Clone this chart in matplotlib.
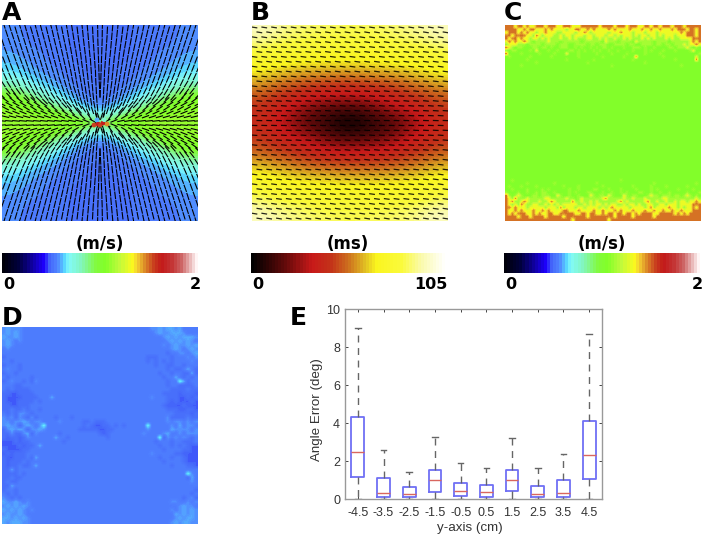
import numpy as np
import matplotlib
matplotlib.use('Agg')
import matplotlib.pyplot as plt
from matplotlib.colors import LinearSegmentedColormap

# colormaps
speed_stops = [(0.00, (0, 0, 10)), (0.08, (0, 0, 60)), (0.21, (30, 0, 255)), (0.24, (70, 105, 250)),
               (0.28, (80, 130, 255)), (0.32, (90, 220, 255)), (0.34, (130, 250, 250)), (0.40, (130, 245, 190)),
               (0.48, (130, 250, 60)), (0.53, (130, 255, 40)), (0.60, (190, 250, 60)), (0.665, (250, 250, 30)),
               (0.69, (245, 210, 50)), (0.73, (220, 140, 40)), (0.78, (200, 60, 30)), (0.82, (195, 25, 25)),
               (0.87, (195, 50, 50)), (0.92, (205, 100, 100)), (0.97, (235, 190, 190)), (1.00, (255, 245, 245))]
time_stops = [(0.00, (0, 0, 0)), (0.09, (50, 5, 5)), (0.175, (100, 10, 10)), (0.31, (200, 25, 25)),
              (0.41, (195, 50, 25)), (0.50, (205, 110, 30)), (0.59, (225, 190, 35)), (0.65, (250, 245, 30)),
              (0.78, (250, 250, 60)), (0.88, (250, 250, 170)), (1.00, (255, 255, 250))]

# panel A: speed (m/s), top half and left half, mirrored below
a_speed = [
    [.57, .56, .55, .54, .53, .52, .52],
    [.58, .56, .55, .54, .53, .52, .52],
    [.59, .57, .56, .54, .53, .52, .52],
    [.61, .59, .57, .55, .53, .52, .52],
    [.64, .61, .58, .56, .54, .53, .52],
    [.70, .65, .61, .58, .55, .53, .52],
    [.84, .74, .66, .61, .57, .54, .53],
    [1.00, .92, .78, .68, .61, .56, .54],
    [1.08, 1.05, .96, .82, .68, .60, .56],
    [1.10, 1.10, 1.08, 1.05, .94, .74, .66],
    [1.12, 1.12, 1.12, 1.12, 1.12, 1.10, .90],
]
# panel A: fibre angle (deg from horizontal), upper left quadrant
a_angle = [
    [72, 72, 73, 73, 74, 74, 75, 75, 76, 76, 77, 78, 79, 80, 81, 83, 84, 85, 87, 89],
    [72, 72, 73, 73, 73, 74, 74, 75, 76, 76, 77, 78, 79, 80, 81, 83, 84, 85, 87, 89],
    [71, 72, 72, 73, 73, 74, 74, 75, 75, 76, 77, 77, 78, 79, 81, 82, 84, 85, 86, 88],
    [71, 71, 72, 72, 73, 73, 74, 75, 75, 76, 76, 77, 78, 79, 80, 82, 83, 85, 86, 88],
    [71, 71, 72, 72, 73, 73, 74, 74, 75, 75, 76, 77, 78, 79, 80, 82, 83, 85, 86, 88],
    [70, 70, 71, 71, 72, 72, 73, 74, 74, 75, 75, 76, 77, 79, 80, 81, 83, 84, 86, 88],
    [69, 70, 70, 71, 71, 72, 72, 73, 74, 74, 75, 76, 77, 78, 80, 81, 83, 84, 86, 88],
    [69, 69, 70, 70, 71, 71, 72, 73, 73, 74, 75, 76, 77, 78, 79, 81, 83, 84, 86, 88],
    [68, 68, 69, 69, 70, 71, 71, 72, 73, 73, 74, 75, 76, 78, 79, 81, 82, 84, 86, 88],
    [66, 67, 67, 68, 69, 70, 70, 71, 72, 72, 73, 74, 76, 77, 79, 80, 82, 84, 86, 88],
    [65, 65, 66, 67, 67, 68, 69, 70, 70, 71, 72, 73, 75, 76, 78, 80, 82, 84, 86, 88],
    [61, 62, 63, 64, 65, 65, 66, 67, 68, 69, 70, 71, 73, 75, 77, 79, 81, 83, 85, 87],
    [57, 58, 59, 60, 61, 62, 63, 64, 65, 66, 67, 68, 70, 73, 75, 78, 80, 82, 85, 87],
    [51, 52, 53, 54, 55, 56, 58, 59, 60, 61, 63, 65, 67, 69, 72, 75, 78, 81, 84, 87],
    [45, 46, 47, 48, 49, 50, 51, 52, 54, 55, 57, 60, 63, 66, 69, 72, 76, 79, 83, 86],
    [36, 37, 38, 39, 40, 41, 42, 43, 45, 46, 48, 51, 54, 58, 63, 67, 72, 77, 81, 85],
    [28, 28, 29, 30, 31, 32, 33, 34, 36, 38, 40, 43, 46, 50, 55, 60, 67, 73, 79, 84],
    [21, 21, 22, 22, 23, 24, 24, 25, 26, 28, 30, 32, 35, 39, 45, 50, 58, 65, 72, 80],
    [14, 14, 14, 15, 15, 15, 16, 16, 17, 18, 20, 22, 24, 27, 31, 35, 45, 55, 63, 72],
    [5, 5, 5, 5, 5, 5, 5, 5, 6, 6, 6, 7, 8, 9, 10, 12, 16, 22, 28, 35],
]
# hot spot in the middle of panel A (x, y, m/s)
a_spot_x = [-6, -2, 0, 3, 7, -3, 4]
a_spot_y = [-2, -1, -2, 0, -1, 3, 3]
a_spot_v = [1.55, 1.65, 1.55, 1.65, 1.45, 0.62, 0.75]

# panel B: activation time (ms)
b_time = [
    [95, 92, 88, 86, 85, 84, 84, 84, 85, 87, 89, 92, 95],
    [84, 80, 78, 77, 76, 76, 76, 76, 76, 78, 79, 81, 85],
    [74, 71, 69, 68, 67, 67, 67, 67, 68, 69, 70, 72, 75],
    [62, 59, 56, 54, 53, 52, 52, 53, 54, 55, 58, 61, 64],
    [51, 46, 43, 39, 36, 35, 34, 35, 37, 41, 45, 48, 52],
    [42, 37, 32, 25, 20, 17, 16, 18, 24, 30, 34, 39, 44],
    [40, 34, 26, 17, 11, 5, 0, 5, 10, 15, 23, 32, 40],
    [44, 39, 34, 30, 24, 18, 16, 17, 20, 25, 32, 37, 42],
    [52, 48, 45, 41, 37, 35, 34, 35, 36, 39, 43, 46, 51],
    [64, 61, 58, 55, 54, 53, 52, 52, 53, 54, 56, 59, 62],
    [75, 72, 70, 69, 68, 67, 67, 67, 67, 68, 69, 71, 74],
    [85, 81, 79, 78, 76, 76, 76, 76, 76, 77, 78, 80, 84],
    [95, 92, 89, 87, 85, 84, 84, 84, 85, 86, 88, 92, 95],
]
# dash tilt of panel B per row, top to bottom
b_tilt = [-9, -9, -9, -9, -8, -8, -8, -8, -8, -8, -7, -7, -7, -7, -6, -6, -5, -4, -3, -2,
          -2, -3, -4, -5, -6, -6, -7, -7, -7, -7, -8, -8, -8, -8, -8, -8, -9, -9, -9, -9]

# panel C: cell classes, only the noisy rows at top and bottom, rest is plain green
c_levels = {'g': 1.05, 'l': 1.13, 'y': 1.30, 'o': 1.47}
c_top = [
    "oooyooyoyyoooyoooyyoooyyyooooooyooooyoooyoooyyooyooyoooyoooyooooo",
    "ooooyyoyooyyyoyoyyyylyyooyyoyoyyyyoyoyyyyoyyyoyyoyyoyyyoyoooyooyo",
    "yoooyoyoyylyyoyyyllyyyylyyoylyyyyylyyyoyyylyyylyyylyyyyyyyoyoooyo",
    "ooyooooyyloylyyyllylyylyyylyylyyylyylylyyylylyylyylylyyylyyyoooyo",
    "oyooyoyylyylylylllyllylylllyyllylyllyllylylllylylylllylyllyyyyooo",
    "yoyoyyoylgllllylllgllllllgllllllgylllgllllgylllllgllllgllllllyoyo",
    "lyyylllgllllgllllglllggllllgllglllggllllgllggllllgllgllglllylyyoy",
    "oylgllgggllgllglgglllgglglgglglgllglggglgglllglgglggggllglllylglg",
    "lgllgggglgyggglgglgggllglglgglglgglgglgggglggglglggglggglgggglygg",
    "ogggglggggglgggglgggyggglggggglgggglgggglggggglgggglgggggggggggglo",
    "glgggggglgggggglgggggggglggggggglgggggglgggogggggggglggggggggggyg",
    "ggggggglgggggggggggglgggggggglgggggggggggglggggggggggggglggggggo",
    "gggggggggglgggggggggggggggglgggggggggggggggggglgggggggggggggggggg",
    "ggggglggggggggggggggggggggggggggggglgggggggggggggggggggggglgggggg",
]
c_bottom = [
    "gglggggggggggggggggggggggggggggggggggglgggggggggggggggggggggggggg",
    "ggggggglgggggggglggggggggggggglgggggggggggggggggglggggggggggggglg",
    "glggglgggglgggggggglgggglggggggglggggggggglggggglgggglgggggglgggg",
    "gglgggglgggglglgggggglgglggggllggglggglgggglgggglglgggggglgggglgg",
    "lggglgglgglgllgglgggglglgggllggglgglgglglgggllgglgglgglggggglgggl",
    "olglylgggllglllggylgglgglgggylgllgylgggylgllggglyllglllgllglylglg",
    "oylolllylllllyylllllyllglyllllllyolllllyllylllylllllyylllllllllyl",
    "oyollyoylllyllyoylllllollyllylyllllllyolylllllyollyllyllylyylyyoy",
    "oylyloyllyyllylylylyyyyyllylylyylylyyllylyylyllyyllyylyyylyyyyooo",
    "ooyoyyylyyyyylyyylolyyylyylyyyylylyoyyyyylyyyylyolyyyyoyylylyyoyo",
    "oyyoyoyyyoyyoyoyyyyooyyyoyyyyoyyoyyyoyoyyyoyyyoyyoyyoyyoyyoyyyooo",
    "oyoyoooyyoyoyyooyyoooooyyooyooyyoyooyooyooyoyooooyyoooooyoyoyoooo",
    "ooooyoooyooooyoooooyoooooooyooooooooyoooooyooooooyooooooooooooooo",
    "ooooooooooooooooooooooyoooooooooooyoooooooooooooooooooooooooooooo",
]

# panel D: cell classes
d_levels = {'.': .272, 'd': .252, 'D': .238, 'l': .287, 'L': .298, 'c': .335}
d_cells = [
    "lLlll................................llLlLLlL....",
    "lLlLl.................................lLllLLLl...",
    "LllLl...................................lLlLlLLLl",
    "lLl.l....................................lLlLlLl.",
    "lLl.....................................l.lLllLlL",
    ".l........................................lLl.lLl",
    ".........................................d..ll.lL",
    "d...................................ddd...d...l.l",
    "..d.................................d.d.d.d....l.",
    "d...d.................................d..dd..d...",
    ".l..d....................................d.dd.L.d",
    "d..d...................................d..d..ddLd",
    ".d.....d................................d..L.d.d.",
    "d.l..d.dl................................d..cLd..d",
    "...dd....................................d..dddd.",
    ".d.dddd...................................dddd.dd",
    "ddDDdddd................................ddddDdddD",
    "dDDDDdddd...L........................l...dddDDdDd",
    "dDDDdddd.d...............................dDdDDDdD",
    "ddDDddd.................................dDDDDdDDD",
    "dd.dd.d..d...............................dddDDddD",
    ".d.dll.d...................................ddddDd",
    "l.ldl.dld....d...d.......................ldddd.dd",
    "ll.llLl.ll....l.....dd.ddd...............l.ll.l.l",
    "lLlldlLl.lc.........d.dDDdd.d.d.....c.....l.L.ll.",
    "dlLlLldllLl........dddddDDdd........l.....Lllll.l",
    "ddlddlLdl.....d.........dDd........l....lL..l.lll",
    "dDddDdl......L..d.........d............cdl.l.l.d.",
    "DDDdDdd........d......................d...d..ddd",
    "DDDDdDdd.L.............................d..d.d.dDD",
    "dDDDDdd.................................d....ddDDD",
    "DdDddd...............................l.....ddDDDD",
    "dDDddd.dL..............................d..d..dDDDd",
    "dDddd.d.................................d....dDDDd",
    "dDdd.dd.L.................................d...ddDd",
    "ddLd..............................................",
    "dddd.d........................................cl.",
    "dd.dd.........................................dL.",
    "d.dd...........................................l",
    "ddL.............................................",
    "d..d............................................d",
    ".d.d...........................................d.",
    "l.d.d........................................d.ld",
    "LllLl.l...................................ll..l.l",
    "lLlLlLl.....................................lLll.",
    "LlLlLl.l..................................l.lLlLl",
    "lLllLl.....................................LlLlLl",
    "LLlLlLl....................................lLlLLl",
    "LlLLLll...................................lLlLLll",
]

# panel E: box stats
e_labels = ['-4.5', '-3.5', '-2.5', '-1.5', '-0.5', '0.5', '1.5', '2.5', '3.5', '4.5']
e_whishi = [8.98, 2.57, 1.44, 3.24, 1.87, 1.61, 3.19, 1.61, 2.35, 8.67]
e_q3 = [4.31, 1.10, 0.63, 1.51, 0.84, 0.74, 1.51, 0.70, 1.00, 4.08]
e_med = [2.50, 0.32, 0.26, 0.98, 0.44, 0.37, 1.00, 0.28, 0.30, 2.29]
e_q1 = [1.16, 0.10, 0.10, 0.37, 0.17, 0.12, 0.42, 0.10, 0.10, 1.03]
e_whislo = [0, 0, 0, 0, 0, 0, 0, 0, 0, 0]

W, H = 705, 537
fig = plt.figure(figsize=(W / 100, H / 100), dpi=100)


def make_cmap(name, stops, n=64):
    return LinearSegmentedColormap.from_list(
        name, [(t, tuple(c / 255 for c in rgb)) for t, rgb in stops], N=n)


def px_axes(x0, y0, x1, y1):
    return fig.add_axes([x0 / W, 1 - y1 / H, (x1 - x0) / W, (y1 - y0) / H])


def letter(x, y, s):
    fig.text(x / W, 1 - y / H, s, fontsize=18, fontweight='bold', ha='left', va='baseline')


def field(box, data, cmap, vmax, interp):
    ax = px_axes(*box)
    im = ax.imshow(data, cmap=cmap, vmin=0, vmax=vmax, extent=(-98, 98, -98, 98),
                   origin='upper', aspect='auto', interpolation=interp)
    ax.axis('off')
    return ax, im


def color_bar(im, x0, x1, unit, lo, hi):
    cax = px_axes(x0, 253, x1, 273)
    cb = fig.colorbar(im, cax=cax, orientation='horizontal')
    cb.outline.set_visible(False)
    cb.set_ticks([])
    fig.text((x0 + x1) / 2 / W, 1 - 249 / H, unit, fontsize=12, fontweight='bold', ha='center', va='baseline')
    fig.text((x0 + 1) / W, 1 - 289 / H, lo, fontsize=11.5, fontweight='bold', ha='left', va='baseline')
    fig.text((x1 + 3) / W, 1 - 289 / H, hi, fontsize=11.5, fontweight='bold', ha='right', va='baseline')


def dashes(ax, x, y, deg, length, lw, alpha=1.0):
    rad = np.deg2rad(deg)
    ax.quiver(x, y, length * np.cos(rad), length * np.sin(rad), angles='xy', scale_units='xy', scale=1,
              pivot='mid', units='xy', width=lw, headwidth=1, headlength=0, headaxislength=0,
              color='k', alpha=alpha)
    ax.set_xlim(-98, 98)
    ax.set_ylim(-98, 98)


def angle_at(x, y):
    c = int(np.clip((x + 98) / 4.9, 0, 19))
    r = int(np.clip((98 - y) / 4.9, 0, 19))
    return a_angle[r][c]


def band_limit(x):
    return 6 + 26 * (-x / 98)


def trace_quadrant():
    # streaks from the top and left edges down to the green band
    seeds = [(x, 98.0) for x in np.arange(-96, 0, 5.2)]
    y = 98 - 15.0
    while y > 32:
        seeds.append((-98.0, y))
        y -= max(4.5, 5.2 * np.tan(np.deg2rad(angle_at(-98, y))))
    px, py, pa = [], [], []
    for i, (x, y) in enumerate(seeds):
        start = (i % 3) * 2.7
        x += start * np.cos(np.deg2rad(angle_at(x, y)))
        y -= start * np.sin(np.deg2rad(angle_at(x, y)))
        while x < 0 and y > band_limit(x):
            deg = angle_at(x, y)
            px.append(x)
            py.append(y)
            pa.append(deg)
            x += 8.6 * np.cos(np.deg2rad(deg))
            y -= 8.6 * np.sin(np.deg2rad(deg))
    # staggered dashes inside the band
    for k, y in enumerate(np.arange(2.1, 32, 4.2)):
        for x in np.arange(-98 + (k % 2) * 3.5, 0, 7.0):
            if y < band_limit(x):
                px.append(x)
                py.append(y)
                pa.append(angle_at(x, y))
    return np.array(px), np.array(py), np.array(pa, dtype=float)


speed_cmap = make_cmap('speed', speed_stops)
time_cmap = make_cmap('time', time_stops)
speed_fine = make_cmap('speed_fine', speed_stops, 256)

# A
half = np.array(a_speed)
half = np.hstack([half, half[:, -2::-1]])
speed_grid = np.vstack([half, half[-2::-1]])
ax_a, im_a = field((2, 25, 198, 221), speed_grid, speed_cmap, 2, 'bicubic')
ax_a.scatter(a_spot_x, a_spot_y, c=a_spot_v, cmap=speed_cmap, vmin=0, vmax=2, s=12, linewidths=0, zorder=2)
qx, qy, qa = trace_quadrant()
all_x = np.concatenate([qx, -qx, qx, -qx])
all_y = np.concatenate([qy, qy, -qy, -qy])
all_a = np.concatenate([-qa, qa, qa, -qa])
dashes(ax_a, all_x, all_y, all_a, 7.6, 1.1)
ax_a.scatter(a_spot_x, a_spot_y, c=a_spot_v, cmap=speed_cmap, vmin=0, vmax=2, s=8, linewidths=0, zorder=4)
color_bar(im_a, 2, 198, '(m/s)', '0', '2')
letter(2, 20, 'A')

# B
ax_b, im_b = field((252, 25, 448, 221), np.array(b_time), time_cmap, 105, 'bicubic')
centers = (np.arange(40) - 19.5) * 4.9
gx, gy = np.meshgrid(centers, centers[::-1])
col, row = np.meshgrid(np.arange(40), np.arange(40))
keep = (col + row) % 2 == 0
b_deg = np.array(b_tilt)[row]
dashes(ax_b, gx[keep], gy[keep], b_deg[keep], 5.8, 1.25, alpha=0.85)
color_bar(im_b, 251, 445, '(ms)', '0', '105')
letter(251, 20, 'B')

# C
plain = 'g' * 65
c_rows = c_top + [plain] * (65 - len(c_top) - len(c_bottom)) + c_bottom
c_grid = np.array([[c_levels[k] for k in r.ljust(65, 'g')[:65]] for r in c_rows])
ax_c, im_c = field((505, 25, 701, 221), c_grid, speed_cmap, 2, 'bilinear')
color_bar(im_c, 504, 700, '(m/s)', '0', '2')
letter(504, 20, 'C')

# D
d_grid = np.array([[d_levels[k] for k in r.ljust(49, '.')[:49]] for r in d_cells])
ax_d, im_d = field((2, 327, 198, 524), d_grid, speed_fine, 1, 'bilinear')
letter(2, 325, 'D')

# E
stats = [dict(label=e_labels[i], whislo=e_whislo[i], q1=e_q1[i], med=e_med[i], q3=e_q3[i], whishi=e_whishi[i], fliers=[])
         for i in range(len(e_labels))]
ax_e = px_axes(345, 309, 602, 499)
ax_e.bxp(stats, positions=range(1, 11), widths=0.5, showfliers=False,
         boxprops=dict(color='#7070f5', linewidth=1.3),
         medianprops=dict(color='#d9665f', linewidth=1.0),
         whiskerprops=dict(color='#666666', linewidth=1.0, linestyle=(0, (5, 4))),
         capprops=dict(color='#666666', linewidth=1.0), capwidths=0.22)
ax_e.set_xlim(0.5, 10.5)
ax_e.set_ylim(0, 10)
ax_e.set_yticks(range(0, 11, 2))
ax_e.tick_params(direction='in', length=2.5, width=0.7, top=True, right=True, color='#444444',
                 labelcolor='#333333', labelsize=9, pad=6)
ax_e.tick_params(axis='y', pad=3.5)
for lab in ax_e.get_xticklabels() + ax_e.get_yticklabels():
    lab.set_fontfamily('Liberation Sans')
for side in ax_e.spines.values():
    side.set_color('#999999')
    side.set_linewidth(1.0)
ax_e.set_xlabel('y-axis (cm)', fontsize=9.6, family='Liberation Sans', color='#333333')
ax_e.set_ylabel('Angle Error (deg)', fontsize=9.6, family='Liberation Sans', color='#333333')
ax_e.xaxis.set_label_coords(0.485, -0.122)
ax_e.yaxis.set_label_coords(-0.085, 0.47)
letter(290, 325, 'E')

fig.savefig('out.png', dpi=100)
